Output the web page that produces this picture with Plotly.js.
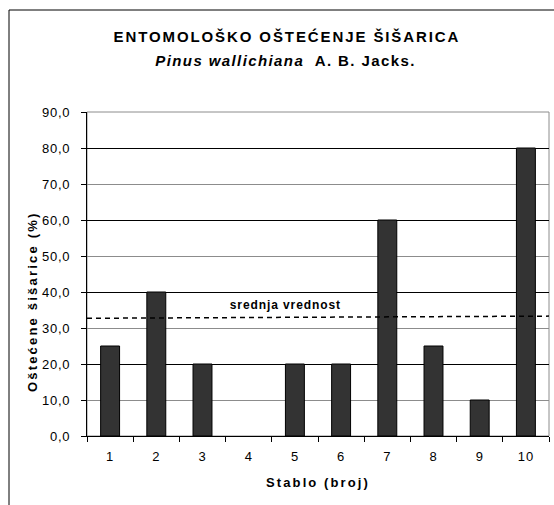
<!DOCTYPE html>
<html>
<head>
<meta charset="utf-8">
<script src="https://cdn.plot.ly/plotly-3.0.1.min.js"></script>
<style>
  html, body { margin: 0; padding: 0; background: #fff; }
  #chart { width: 554px; height: 505px; }
  .xtick text, .ytick text { letter-spacing: 0.8px; }
  .g-xtitle text { letter-spacing: 2.1px; }
  g.annotation[data-index="0"] text { letter-spacing: 1.9px; }
  g.annotation[data-index="1"] text { letter-spacing: 1.4px; }
  g.annotation[data-index="2"] text { letter-spacing: 2.2px; }
  g.annotation[data-index="3"] text { letter-spacing: 0.9px; }
</style>
</head>
<body>
<div id="chart"></div>
<script>
// ---- data ----
const categories = ['1', '2', '3', '4', '5', '6', '7', '8', '9', '10'];
const damage = [25, 40, 20, 0, 20, 20, 60, 25, 10, 80];
const yTickVals = [0, 10, 20, 30, 40, 50, 60, 70, 80, 90];
const darkGridVals = [20, 40, 60, 80];
const meanLine = [32.7, 33.3];          // "srednja vrednost" line, left and right end
const meanLabelY = 36.4;
const titleText = 'ENTOMOLOŠKO OŠTEĆENJE ŠIŠARICA';
const subtitleText = '<i>Pinus wallichiana</i>  A. B. Jacks.';
const xTitle = 'Stablo (broj)';
const yTitle = 'Oštećene šišarice (%)';
const meanLabel = 'srednja vrednost';

const FONT = 'Arial, "Liberation Sans", sans-serif';

const traces = [
  {
    type: 'bar',
    x: categories,
    y: damage,
    marker: {
      color: '#333333',
      line: { color: '#000000', width: damage.map(v => (v === 0 ? 0 : 1)) }
    },
    hoverinfo: 'x+y'
  },
  {
    type: 'scatter',
    x: [categories[0]],
    y: [null],
    yaxis: 'y2',
    mode: 'markers',
    showlegend: false,
    hoverinfo: 'skip'
  }
];

const layout = {
  width: 554,
  height: 505,
  margin: { l: 87, r: 5, t: 112, b: 69, pad: 0 },
  paper_bgcolor: '#ffffff',
  plot_bgcolor: '#ffffff',
  showlegend: false,
  separators: ',.',
  bargap: 0.59,
  font: { family: FONT, size: 13, color: '#000000' },
  xaxis: {
    type: 'category',
    range: [-0.5, 9.5],
    tickson: 'boundaries',
    ticks: 'outside',
    ticklen: 5,
    tickcolor: '#000000',
    tickwidth: 1,
    showline: true,
    linecolor: '#000000',
    linewidth: 1,
    showgrid: false,
    zeroline: false,
    ticklabelstandoff: 8,
    tickfont: { family: FONT, size: 13, color: '#000' },
    title: { text: xTitle, font: { family: FONT, size: 13, weight: 'bold', color: '#000' }, standoff: 15 },
    fixedrange: true
  },
  yaxis: {
    range: [0, 90],
    tickvals: yTickVals,
    tickformat: '.1f',
    ticks: 'outside',
    ticklen: 5,
    tickcolor: '#000000',
    showline: true,
    linecolor: '#000000',
    linewidth: 1,
    showgrid: true,
    gridcolor: '#8c8c8c',
    gridwidth: 1,
    zeroline: false,
    ticklabelstandoff: 8,
    tickfont: { family: FONT, size: 13, color: '#000' },
    fixedrange: true
  },
  yaxis2: {
    overlaying: 'y',
    range: [0, 90],
    tickvals: darkGridVals,
    showticklabels: false,
    ticks: '',
    showline: false,
    showgrid: true,
    gridcolor: '#000000',
    gridwidth: 1,
    zeroline: false,
    fixedrange: true
  },
  shapes: [
    { type: 'rect', xref: 'paper', yref: 'paper', x0: 0, x1: 1, y0: 0, y1: 1,
      line: { color: '#8c8c8c', width: 1 }, fillcolor: 'rgba(0,0,0,0)', layer: 'below' },
    { type: 'rect', xref: 'paper', yref: 'paper', x0: -0.1688, x1: 1.3, y0: -0.5, y1: 1.3148,
      line: { color: '#000000', width: 1 }, fillcolor: 'rgba(0,0,0,0)', layer: 'below' },
    { type: 'line', xref: 'x', yref: 'y', x0: -0.5, x1: 9.5, y0: meanLine[0], y1: meanLine[1],
      line: { color: '#000000', width: 1.5, dash: '5px,4px' }, layer: 'above' }
  ],
  annotations: [
    { text: titleText, xref: 'paper', yref: 'paper', x: 0.433, y: 1.233,
      xanchor: 'center', yanchor: 'middle', showarrow: false,
      font: { family: FONT, size: 15, weight: 'bold', color: '#000' } },
    { text: subtitleText, xref: 'paper', yref: 'paper', x: 0.4286, y: 1.158,
      xanchor: 'center', yanchor: 'middle', showarrow: false,
      font: { family: FONT, size: 15, weight: 'bold', color: '#000' } },
    { text: yTitle, xref: 'paper', yref: 'paper', x: -0.1169, y: 0.4136, textangle: -90,
      xanchor: 'center', yanchor: 'middle', showarrow: false,
      font: { family: FONT, size: 13, weight: 'bold', color: '#000' } },
    { text: meanLabel, xref: 'x', yref: 'y', x: 3.807, y: meanLabelY,
      xanchor: 'center', yanchor: 'middle', showarrow: false,
      font: { family: FONT, size: 12, weight: 'bold', color: '#000' } }
  ]
};

Plotly.newPlot('chart', traces, layout, { displayModeBar: false, staticPlot: true });
</script>
</body>
</html>
